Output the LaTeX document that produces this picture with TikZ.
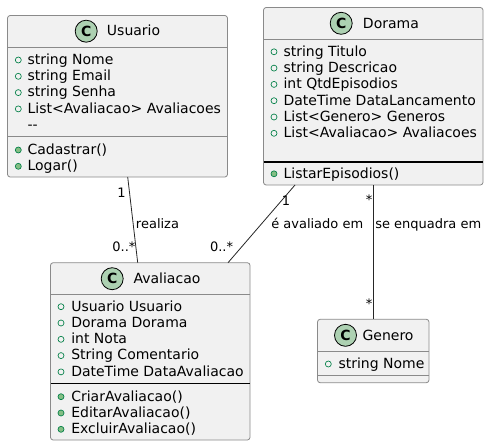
\documentclass[tikz,border=0pt]{standalone}
\usepackage{fontspec}
\setmainfont{DejaVu Sans}
\usetikzlibrary{fit}
\definecolor{boxfill}{HTML}{F1F1F1}
\definecolor{boxline}{HTML}{8A8A8A}
\definecolor{cfill}{HTML}{ADD1B2}
\definecolor{visline}{HTML}{038048}
\definecolor{visfill}{HTML}{84BE84}
\tikzset{
  classbox/.style={draw=boxline, fill=boxfill, line width=0.6pt, rounded corners=2pt, inner sep=0pt},
  sepline/.style={draw=boxline, line width=0.6pt},
  blackline/.style={draw=black, line width=1pt},
  member/.style={anchor=base west, inner sep=0pt, font=\fontsize{10.5pt}{12pt}\selectfont},
  cname/.style={anchor=base west, inner sep=0pt, font=\fontsize{10.5pt}{12pt}\selectfont},
  lbl/.style={anchor=base west, inner sep=0pt, font=\fontsize{9.75pt}{11pt}\selectfont},
  lblr/.style={anchor=base east, inner sep=0pt, font=\fontsize{9.75pt}{11pt}\selectfont},
  ccirc/.style={circle, draw=black, fill=cfill, line width=0.6pt, minimum size=16.5pt, inner sep=0pt, font=\fontsize{10.5pt}{12pt}\selectfont\bfseries},
  field/.style={circle, draw=visline, line width=0.5pt, minimum size=4.5pt, inner sep=0pt},
  method/.style={circle, draw=visline, fill=visfill, line width=0.5pt, minimum size=4.5pt, inner sep=0pt},
  assoc/.style={draw=black!85, line width=0.6pt},
}
\begin{document}
\begin{tikzpicture}[x=0.75pt,y=-0.75pt]
\useasboundingbox (0,0) rectangle (489,446);

% ---------- Usuario ----------
\node[classbox, fit={(7.5,15.5)(227.5,177)}] (usuario) {};
\draw[sepline] (7.5,47.5) -- (227.5,47.5);
\draw[sepline] (7.5,136) -- (227.5,136);
\node[ccirc] (uc) at (86.2,31.2) {C};
\node[cname] (un) at (106.7,36) {Usuario};
\node[field] (uf1) at (18.3,60) {};
\node[member] (ua1) at (27.3,64.3) {string Nome};
\node[field] (uf2) at (18.3,76.3) {};
\node[member] (ua2) at (27.3,80.6) {string Email};
\node[field] (uf3) at (18.3,92.6) {};
\node[member] (ua3) at (27.3,96.9) {string Senha};
\node[field] (uf4) at (18.3,108.9) {};
\node[member] (ua4) at (27.3,113.2) {List<Avaliacao> Avaliacoes};
\node[member] (ua5) at (27.3,129.5) {-{}-};
\node[method] (um1) at (18.3,150) {};
\node[member] (ume1) at (27.3,154.3) {Cadastrar()};
\node[method] (um2) at (18.3,166.3) {};
\node[member] (ume2) at (27.3,170.6) {Logar()};

% ---------- Dorama ----------
\node[classbox, fit={(263.5,7.5)(483,185)}] (dorama) {};
\draw[sepline] (263.5,39.5) -- (483,39.5);
\draw[blackline] (263.5,162) -- (483,162);
\node[ccirc] (dc) at (341.2,23.3) {C};
\node[cname] (dn) at (362.7,28.3) {Dorama};
\node[field] (df1) at (274,51.8) {};
\node[member] (da1) at (283.3,56.1) {string Titulo};
\node[field] (df2) at (274,68.1) {};
\node[member] (da2) at (283.3,72.4) {string Descricao};
\node[field] (df3) at (274,84.4) {};
\node[member] (da3) at (283.3,88.7) {int QtdEpisodios};
\node[field] (df4) at (274,100.7) {};
\node[member] (da4) at (283.3,105) {DateTime DataLancamento};
\node[field] (df5) at (274,117) {};
\node[member] (da5) at (283.3,121.3) {List<Genero> Generos};
\node[field] (df6) at (274,133.3) {};
\node[member] (da6) at (283.3,137.6) {List<Avaliacao> Avaliacoes};
\node[method] (dm1) at (274,173.8) {};
\node[member] (dme1) at (283.3,178.1) {ListarEpisodios()};

% ---------- Avaliacao ----------
\node[classbox, fit={(50.5,262.7)(250,440)}] (avaliacao) {};
\draw[sepline] (50.5,294.3) -- (250,294.3);
\draw[blackline] (50.5,383.3) -- (250,383.3);
\node[ccirc] (ac) at (112.2,278.7) {C};
\node[cname] (an) at (133.3,283.3) {Avaliacao};
\node[field] (af1) at (61,306.7) {};
\node[member] (aa1) at (71,311) {Usuario Usuario};
\node[field] (af2) at (61,323) {};
\node[member] (aa2) at (71,327.3) {Dorama Dorama};
\node[field] (af3) at (61,339.3) {};
\node[member] (aa3) at (71,343.6) {int Nota};
\node[field] (af4) at (61,355.6) {};
\node[member] (aa4) at (71,359.9) {String Comentario};
\node[field] (af5) at (61,371.9) {};
\node[member] (aa5) at (71,376.2) {DateTime DataAvaliacao};
\node[method] (am1) at (61,396.7) {};
\node[member] (ame1) at (71,401) {CriarAvaliacao()};
\node[method] (am2) at (61,413) {};
\node[member] (ame2) at (71,417.3) {EditarAvaliacao()};
\node[method] (am3) at (61,429.3) {};
\node[member] (ame3) at (71,433.6) {ExcluirAvaliacao()};

% ---------- Genero ----------
\node[classbox, fit={(317.5,319.3)(429,382.7)}] (genero) {};
\draw[sepline] (317.5,351.7) -- (429,351.7);
\draw[sepline] (317.5,375.7) -- (429,375.7);
\node[ccirc] (gc) at (345.5,335.3) {C};
\node[cname] (gn) at (362.3,340) {Genero};
\node[field] (gf1) at (328.3,364) {};
\node[member] (ga1) at (338.3,368.3) {string Nome};

% ---------- connectors ----------
\coordinate (u-s) at (127.7,177);
\coordinate (a-n1) at (137.7,262.7);
\coordinate (d-s1) at (295,185);
\coordinate (a-n2) at (228,262.7);
\coordinate (d-s2) at (373.3,185);
\coordinate (g-n) at (373.3,319.3);
\draw[assoc] (u-s) -- (a-n1);
\draw[assoc] (d-s1) -- (a-n2);
\draw[assoc] (d-s2) -- (g-n);

\node[lblr] (m1) at (126,197.3) {1};
\node[lblr] (m2) at (135.7,251.5) {0..*};
\node[lbl] (l1) at (135.7,228.3) {realiza};
\node[lbl] (m3) at (281.7,205.7) {1};
\node[lblr] (m4) at (233.3,251.5) {0..*};
\node[lbl] (l2) at (271,228.3) {é avaliado em};
\node[lblr] (m5) at (372.7,204.5) {*};
\node[lblr] (m6) at (372.7,308) {*};
\node[lbl] (l3) at (375,228.3) {se enquadra em};
\end{tikzpicture}
\end{document}
